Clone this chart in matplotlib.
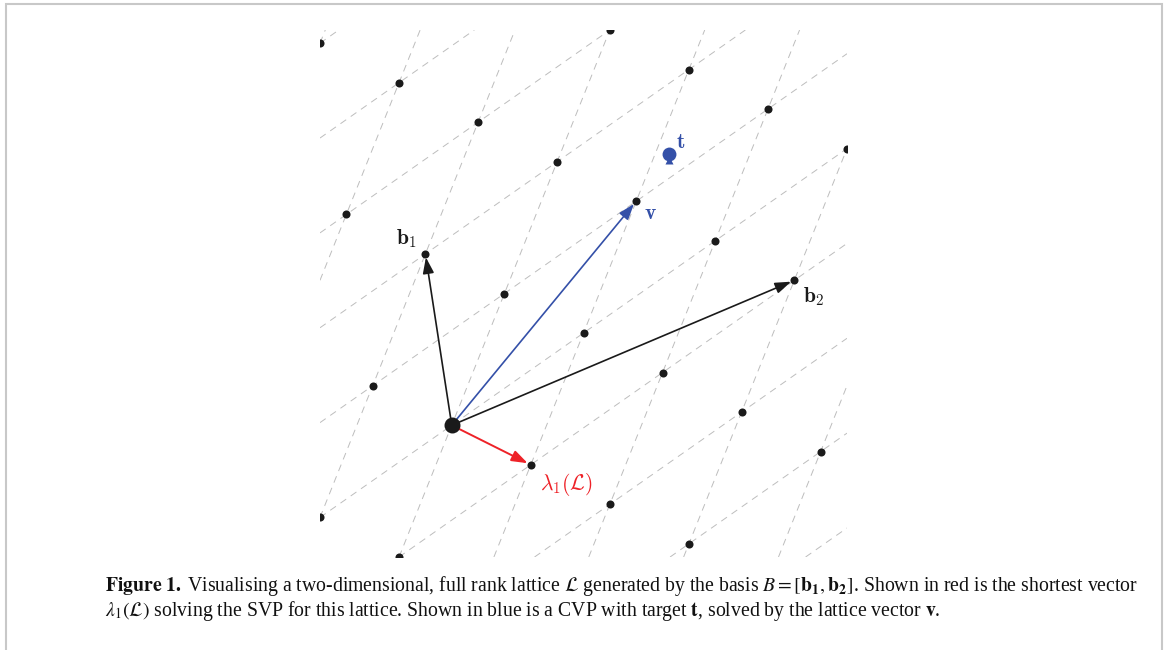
import matplotlib
matplotlib.use("Agg")
import matplotlib.pyplot as plt
from matplotlib.patches import Rectangle

plt.rcParams['lines.scale_dashes'] = False

# lattice data (basis units)
b1 = (-1.0, 6.5)
b2 = (13.0, 5.5)
lam1 = (3.0, -1.5)
v = (7.0, 8.5)
t = (8.25, 10.3)

lattice_x = [-3, 0, 3, 6, 9,
             -4, -1, 2, 5, 8, 11, 14,
             -5, -2, 1, 4, 7, 10, 13,
             6, 9, 12, 15,
             -2, -5]
lattice_y = [1.5, 0, -1.5, -3, -4.5,
             8, 6.5, 5, 3.5, 2, 0.5, -1,
             14.5, 13, 11.5, 10, 8.5, 7, 5.5,
             15, 13.5, 12, 10.5,
             -5, -3.5]

# grid lines through the lattice points: y = slope*x + c
shallow_slope = 0.7
shallow_c = [-14.4, -10.8, -7.2, -3.6, 0, 3.6, 7.2, 10.8, 14.4, 18.0]
steep_slope = 2.5
steep_c = [-36, -27, -18, -9, 0, 9, 18, 27]

black = '#1a1a1a'
blue = '#3450a8'
red = '#ee2228'
grey = '#bdbdbd'

fig = plt.figure(figsize=(11.68, 6.5), dpi=100)
ax = fig.add_axes([320/1168, 93/650, 527/1168, 527/650])
ax.set_xlim(-5, 15)
ax.set_ylim(-5, 15)
ax.set_aspect('equal')
ax.axis('off')

for c in shallow_c:
    ax.axline((0, c), slope=shallow_slope, color=grey, lw=0.7,
              dashes=(5, 4), zorder=1)
for c in steep_c:
    ax.axline((0, c), slope=steep_slope, color=grey, lw=0.7,
              dashes=(5, 4), zorder=1)

ax.plot(lattice_x, lattice_y, 'o', color=black, ms=5.8, mec='none', zorder=3)
ax.plot([0], [0], 'o', color=black, ms=11.5, mec='none', zorder=4)

def arrow(end, col, lw):
    ax.annotate('', xy=end, xytext=(0, 0),
                arrowprops=dict(arrowstyle='-|>,head_length=0.8,head_width=0.28',
                                color=col, lw=lw, shrinkA=0, shrinkB=2.5,
                                mutation_scale=12),
                zorder=2)

arrow(b1, black, 1.2)
arrow(b2, black, 1.2)
arrow(v, blue, 1.2)
arrow(lam1, red, 1.4)

# target point
ax.plot([t[0]], [t[1]], 'o', color=blue, ms=10, mec='none', zorder=4)
ax.plot([t[0]], [t[1] - 0.24], '^', color=blue, ms=5.5, mec='none', zorder=4)

lab = dict(fontsize=15.5, math_fontfamily='cm', ha='center', va='center', zorder=5)
ax.text(-1.70, 7.08, r'$\mathbf{b}_1$', color=black, **lab)
ax.text(13.75, 4.89, r'$\mathbf{b}_2$', color=black, **lab)
ax.text(7.54, 8.07, r'$\mathbf{v}$', color=blue, **lab)
ax.text(8.67, 10.76, r'$\mathbf{t}$', color=blue, **lab)
ax.text(4.36, -2.23, r'$\lambda_1(\mathcal{L})$', color=red, **lab)

# caption
cap = dict(fontsize=14.2, family='Liberation Serif', math_fontfamily='stix',
           va='baseline', ha='left', color='#111111')
fig.text(105/1168, 1 - 591/650,
         r'$\mathbf{Figure\ 1.}\;$Visualising a two-dimensional, full rank lattice '
         r'$\mathcal{L}$ generated by the basis $B=[\mathbf{b_1},\mathbf{b_2}]$. '
         r'Shown in red is the shortest vector', **cap)
fig.text(105/1168, 1 - 616/650,
         r'$\lambda_1(\mathcal{L})$ solving the SVP for this lattice. Shown in blue '
         r'is a CVP with target $\mathbf{t}$, solved by the lattice vector $\mathbf{v}$.',
         **cap)

# frame
fig.add_artist(Rectangle((6/1168, -0.1), 1156/1168, 1.1 - 4/650,
                         transform=fig.transFigure, fill=False,
                         edgecolor='#c8c8c8', lw=1.5))

fig.savefig('out.png', dpi=100)
